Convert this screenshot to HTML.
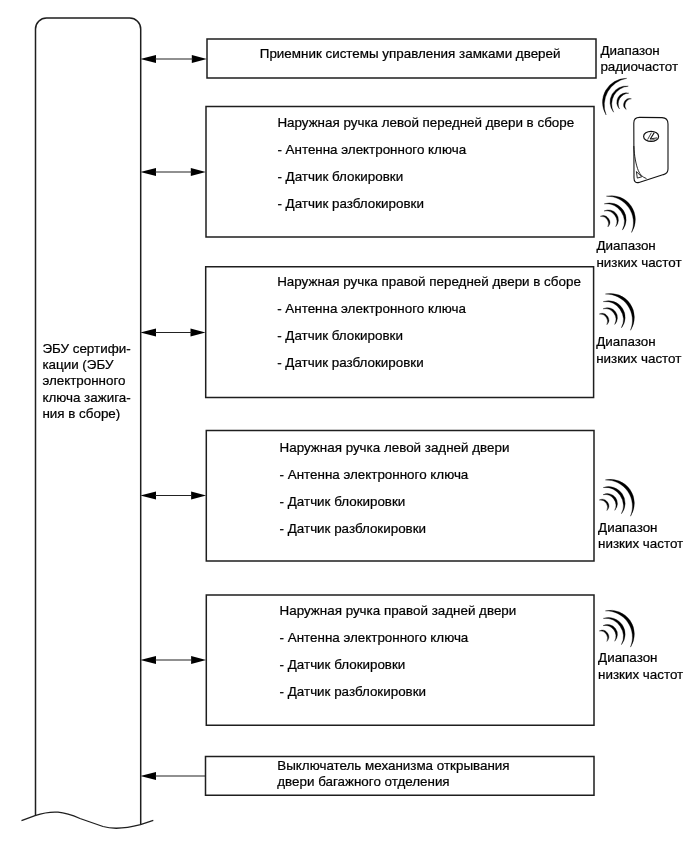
<!DOCTYPE html>
<html><head><meta charset="utf-8"><style>
html,body{margin:0;padding:0;background:#fff;width:687px;height:859px;overflow:hidden}
svg{display:block;will-change:transform}
text{font-family:"Liberation Sans",sans-serif;font-size:13.4px;fill:#000;stroke:#000;stroke-width:0.22px}
</style></head><body>
<svg width="687" height="859" viewBox="0 0 687 859">
<path d="M207 39H596V78H207Z" fill="none" stroke="#1e1e1e" stroke-width="1.5"/>
<path d="M206 106.5H594V237H206Z" fill="none" stroke="#1e1e1e" stroke-width="1.5"/>
<path d="M205.7 266.8H593.6V397.5H205.7Z" fill="none" stroke="#1e1e1e" stroke-width="1.5"/>
<path d="M206.3 430.5H594V561H206.3Z" fill="none" stroke="#1e1e1e" stroke-width="1.5"/>
<path d="M206.3 595H594V725.3H206.3Z" fill="none" stroke="#1e1e1e" stroke-width="1.5"/>
<path d="M205.5 756.4H594V795.3H205.5Z" fill="none" stroke="#1e1e1e" stroke-width="1.5"/>
<path d="M140.3 59L156 55V63Z" fill="#000"/><path d="M206.8 59L191.8 55V63Z" fill="#000"/><path d="M155 59H193" stroke="#222" stroke-width="1.2"/>
<path d="M140.3 172L156 168V176Z" fill="#000"/><path d="M205.8 172L190.8 168V176Z" fill="#000"/><path d="M155 172H192" stroke="#222" stroke-width="1.2"/>
<path d="M140.3 332.5L156 328.5V336.5Z" fill="#000"/><path d="M205.5 332.5L190.5 328.5V336.5Z" fill="#000"/><path d="M155 332.5H191.7" stroke="#222" stroke-width="1.2"/>
<path d="M140.3 495.5L156 491.5V499.5Z" fill="#000"/><path d="M206.10000000000002 495.5L191.10000000000002 491.5V499.5Z" fill="#000"/><path d="M155 495.5H192.3" stroke="#222" stroke-width="1.2"/>
<path d="M140.3 660L156 656V664Z" fill="#000"/><path d="M206.10000000000002 660L191.10000000000002 656V664Z" fill="#000"/><path d="M155 660H192.3" stroke="#222" stroke-width="1.2"/>
<path d="M140.3 776L156 772V780Z" fill="#000"/><path d="M155 776H205.5" stroke="#222" stroke-width="1.2"/>
<path d="M35.5 815.6V29A11 11 0 0 1 46.5 18H129.7A11 11 0 0 1 140.7 29V824.7" fill="none" stroke="#1e1e1e" stroke-width="1.5"/>
<path d="M21.5 820.6L35 815.6C45 812.3 52 811.8 58 812.2C66 812.8 72 815 80 818.5L103 826.5C112 829.2 124 829 140.5 824.7L153.3 820.3" fill="none" stroke="#1e1e1e" stroke-width="1.3"/>
<path transform="translate(1.0 -97.8)" d="M599.27 314.12A6.60 6.60 0 0 1 606.84 324.70A7.46 7.46 0 0 0 599.27 314.12Z M603.06 308.78A9.91 9.91 0 0 1 614.70 324.47A10.93 10.93 0 0 0 603.06 308.78Z M603.24 301.60A16.63 16.63 0 0 1 621.41 327.87A18.27 18.27 0 0 0 603.24 301.60Z M605.36 294.02A23.87 23.87 0 0 1 630.52 330.31A26.44 26.44 0 0 0 605.36 294.02Z" fill="#000" stroke="#000" stroke-width="0.35" stroke-linejoin="round"/>
<path transform="translate(0 0)" d="M599.27 314.12A6.60 6.60 0 0 1 606.84 324.70A7.46 7.46 0 0 0 599.27 314.12Z M603.06 308.78A9.91 9.91 0 0 1 614.70 324.47A10.93 10.93 0 0 0 603.06 308.78Z M603.24 301.60A16.63 16.63 0 0 1 621.41 327.87A18.27 18.27 0 0 0 603.24 301.60Z M605.36 294.02A23.87 23.87 0 0 1 630.52 330.31A26.44 26.44 0 0 0 605.36 294.02Z" fill="#000" stroke="#000" stroke-width="0.35" stroke-linejoin="round"/>
<path transform="translate(0 185.9)" d="M599.27 314.12A6.60 6.60 0 0 1 606.84 324.70A7.46 7.46 0 0 0 599.27 314.12Z M603.06 308.78A9.91 9.91 0 0 1 614.70 324.47A10.93 10.93 0 0 0 603.06 308.78Z M603.24 301.60A16.63 16.63 0 0 1 621.41 327.87A18.27 18.27 0 0 0 603.24 301.60Z M605.36 294.02A23.87 23.87 0 0 1 630.52 330.31A26.44 26.44 0 0 0 605.36 294.02Z" fill="#000" stroke="#000" stroke-width="0.35" stroke-linejoin="round"/>
<path transform="translate(0 316.8)" d="M599.27 314.12A6.60 6.60 0 0 1 606.84 324.70A7.46 7.46 0 0 0 599.27 314.12Z M603.06 308.78A9.91 9.91 0 0 1 614.70 324.47A10.93 10.93 0 0 0 603.06 308.78Z M603.24 301.60A16.63 16.63 0 0 1 621.41 327.87A18.27 18.27 0 0 0 603.24 301.60Z M605.36 294.02A23.87 23.87 0 0 1 630.52 330.31A26.44 26.44 0 0 0 605.36 294.02Z" fill="#000" stroke="#000" stroke-width="0.35" stroke-linejoin="round"/>
<path d="M626.70 78.35A23.93 23.93 0 0 0 606.11 114.94A27.14 27.14 0 0 1 626.70 78.35Z M628.30 86.19A16.05 16.05 0 0 0 613.61 112.20A17.97 17.97 0 0 1 628.30 86.19Z M628.81 93.23A9.43 9.43 0 0 0 619.49 108.93A10.66 10.66 0 0 1 628.81 93.23Z M631.40 98.76A6.02 6.02 0 0 0 626.23 109.46A6.84 6.84 0 0 1 631.40 98.76Z" fill="#000" stroke="#000" stroke-width="0.35" stroke-linejoin="round"/>
<g id="fob" fill="none" stroke="#111" stroke-width="1.1" stroke-linejoin="round">
<path d="M633.8 123Q633.8 117.4 639.5 117.4L662 117.6Q668 117.8 668 124V169Q668 173.5 663.5 174.6L639 182.4Q634 183.5 634 178Z"/>
<path d="M633.8 146C634.3 156 636 165 638.4 170.8C640 174.5 642.2 177 646.5 178.6" stroke-width="0.9"/>
<path d="M636.4 171.6L641.7 176.8L637.3 178.1Z" stroke-width="0.9"/>
<ellipse cx="651.1" cy="136.4" rx="7.5" ry="5" stroke-width="1.2"/>
<path d="M647.6 139.6L651.4 132.7" stroke-width="0.8"/>
<path d="M650.2 139.2L654.2 132.6" stroke-width="1.1"/>
<path d="M650.3 138.9L657 137.9" stroke-width="0.9"/>
<path d="M649.5 140.6Q653 141 657.4 138.2L650.5 139.4Z" fill="#777" stroke="none"/>
</g>
<text x="259.8" y="57.75">Приемник системы управления замками дверей</text>
<text x="277.4" y="126.8">Наружная ручка левой передней двери в сборе</text>
<text x="277.4" y="154.0">- Антенна электронного ключа</text>
<text x="277.4" y="181.1">- Датчик блокировки</text>
<text x="277.4" y="208.3">- Датчик разблокировки</text>
<text x="277.2" y="286.1">Наружная ручка правой передней двери в сборе</text>
<text x="277.2" y="313.3">- Антенна электронного ключа</text>
<text x="277.2" y="340.1">- Датчик блокировки</text>
<text x="277.2" y="366.8">- Датчик разблокировки</text>
<text x="279.6" y="452.4">Наружная ручка левой задней двери</text>
<text x="279.6" y="479.0">- Антенна электронного ключа</text>
<text x="279.6" y="506.0">- Датчик блокировки</text>
<text x="279.6" y="532.6">- Датчик разблокировки</text>
<text x="279.6" y="614.7">Наружная ручка правой задней двери</text>
<text x="279.6" y="641.9">- Антенна электронного ключа</text>
<text x="279.6" y="668.8">- Датчик блокировки</text>
<text x="279.6" y="695.5">- Датчик разблокировки</text>
<text x="277.3" y="769.6">Выключатель механизма открывания</text>
<text x="277.3" y="786.1">двери багажного отделения</text>
<text x="42.4" y="353.3">ЭБУ сертифи-</text>
<text x="42.4" y="368.9">кации (ЭБУ</text>
<text x="42.4" y="384.8">электронного</text>
<text x="42.4" y="402.0">ключа зажига-</text>
<text x="42.4" y="418.1">ния в сборе)</text>
<text x="600.4" y="54.8">Диапазон</text>
<text x="600.4" y="71">радиочастот</text>
<text x="596.4" y="249.6">Диапазон</text>
<text x="596.4" y="266.7">низких частот</text>
<text x="596.2" y="346.2">Диапазон</text>
<text x="596.2" y="363.1">низких частот</text>
<text x="598.1" y="531.7">Диапазон</text>
<text x="598.1" y="547.7">низких частот</text>
<text x="598.1" y="662.3">Диапазон</text>
<text x="598.1" y="679.0">низких частот</text>
</svg>
</body></html>
